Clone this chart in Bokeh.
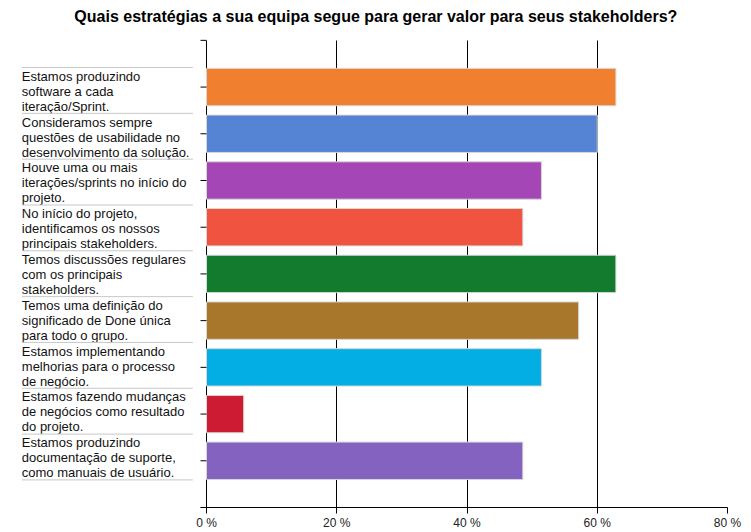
from bokeh.plotting import figure
from bokeh.models import ColumnDataSource, Range1d, FixedTicker
from bokeh.core.properties import value
from bokeh.embed import file_html
from bokeh.resources import INLINE

title_text = "Quais estratégias a sua equipa segue para gerar valor para seus stakeholders?"

categories = [
    "Estamos produzindo\nsoftware a cada\niteração/Sprint.",
    "Consideramos sempre\nquestões de usabilidade no\ndesenvolvimento da solução.",
    "Houve uma ou mais\niterações/sprints no início do\nprojeto.",
    "No início do projeto,\nidentificamos os nossos\nprincipais stakeholders.",
    "Temos discussões regulares\ncom os principais\nstakeholders.",
    "Temos uma definição do\nsignificado de Done única\npara todo o grupo.",
    "Estamos implementando\nmelhorias para o processo\nde negócio.",
    "Estamos fazendo mudanças\nde negócios como resultado\ndo projeto.",
    "Estamos produzindo\ndocumentação de suporte,\ncomo manuais de usuário.",
]
values = [62.86, 60.0, 51.43, 48.57, 62.86, 57.14, 51.43, 5.71, 48.57]
colors = ["#F0802F", "#5584D4", "#A446B6", "#F0533F", "#137B2E",
          "#A9772B", "#02AEE3", "#CC1B33", "#8462C0"]
x_ticks = [0, 20, 40, 60, 80]
x_tick_labels = ["0 %", "20 %", "40 %", "60 %", "80 %"]

FONT = "Liberation Sans"
n = len(categories)
ys = [n - i for i in range(n)]
y_ticks = list(range(0, n + 2))
Y_TOP = n + 1

# layout constants, in the chart's data units
X_START = -29.79
Y_END = Y_TOP + 0.853
LABEL_X = -28.36
SEP_X_END = -2.1
LABEL_TOP = 9.418
LABEL_PITCH = 0.9808
TICK_LEN = 0.92
TITLE_X = 26.0
TITLE_Y = 10.512

p = figure(width=751, height=532, output_backend="svg", toolbar_location=None,
           x_range=Range1d(X_START, 80), y_range=Range1d(0, Y_END),
           min_border_left=12, min_border_right=24, min_border_top=0,
           min_border_bottom=23)
p.outline_line_color = None
p.background_fill_color = "white"
p.border_fill_color = "white"

# title
p.text(x=[TITLE_X], y=[TITLE_Y], text=[title_text], text_font=value(FONT),
       text_font_size="16px", text_font_style="bold", text_color="#000000",
       text_align="center", text_baseline="middle")

src = ColumnDataSource(dict(y=ys, v=values, c=colors))
p.hbar(y="y", left=0, right="v", height=0.8, fill_color="c",
       line_color="#d6d6d6", line_width=1, source=src)

# x axis
p.xaxis.ticker = FixedTicker(ticks=x_ticks)
p.xaxis.bounds = (-TICK_LEN, 80)
p.xaxis.major_label_overrides = dict(zip(x_ticks, x_tick_labels))
p.xaxis.major_tick_out = 6
p.xaxis.major_tick_in = 0
p.xaxis.minor_tick_line_color = None
p.xaxis.axis_line_color = "black"
p.xaxis.major_tick_line_color = "black"
p.xaxis.major_label_text_font = FONT
p.xaxis.major_label_text_font_size = "12px"
p.xaxis.major_label_text_color = "#222222"
p.xaxis.major_label_standoff = 2

p.yaxis.visible = False
p.ygrid.grid_line_color = None

# vertical grid lines (the one at 0 is the category axis line)
g = p.xgrid[0]
if "cross_bounds" in g.properties():
    g.ticker = FixedTicker(ticks=x_ticks)
    g.cross_bounds = (0, Y_TOP)
    g.grid_line_color = "black"
    g.grid_line_width = 1
else:
    g.grid_line_color = None
    gsrc = ColumnDataSource(dict(x=x_ticks, y0=[0] * len(x_ticks),
                                 y1=[Y_TOP] * len(x_ticks)))
    p.segment(x0="x", x1="x", y0="y0", y1="y1", source=gsrc,
              line_color="black", line_width=1)

# small tick marks on the category axis
tick_src = ColumnDataSource(dict(x0=[-TICK_LEN] * len(y_ticks),
                                 x1=[0] * len(y_ticks), y=y_ticks))
p.segment(x0="x0", x1="x1", y0="y", y1="y", source=tick_src,
          line_color="black", line_width=1)

# category labels on the left
row_tops = [LABEL_TOP - i * LABEL_PITCH for i in range(n)]
lab_src = ColumnDataSource(dict(x=[LABEL_X] * n, y=[t - 0.025 for t in row_tops],
                                text=categories))
p.text(x="x", y="y", text="text", source=lab_src,
       text_font=value(FONT), text_font_size="13px", text_color="#111111",
       text_align="left", text_baseline="top", text_line_height=1.0)

seps = [LABEL_TOP - i * LABEL_PITCH for i in range(n + 1)]
sep_src = ColumnDataSource(dict(x0=[LABEL_X] * (n + 1), x1=[SEP_X_END] * (n + 1),
                                y=seps))
p.segment(x0="x0", x1="x1", y0="y", y1="y", source=sep_src,
          line_color="#c8c8c8", line_width=1)

open("out.html", "w").write(file_html(p, INLINE))
